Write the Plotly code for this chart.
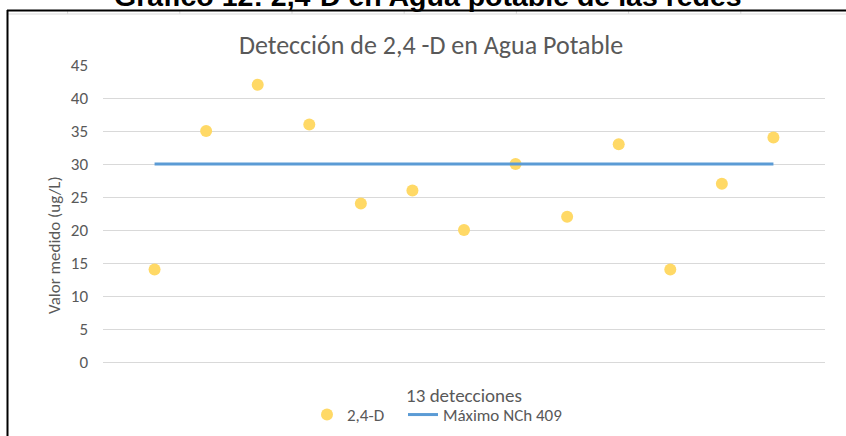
import plotly.graph_objects as go

detecciones = list(range(1, 14))
valores_24d = [14, 35, 42, 36, 24, 26, 20, 30, 22, 33, 14, 27, 34]
maximo_nch = [30] * 13
y_ticks = [0, 5, 10, 15, 20, 25, 30, 35, 40, 45]

FONT = "Carlito, Lato, sans-serif"
GRAY = "#595959"

W, H = 846, 436
L, R, T, B = 103, 21, 65, 74
pw, ph = W - L - R, H - T - B


def px_x(p):
    return (p - L) / pw


def px_y(p):
    return (H - B - p) / ph


fig = go.Figure()
fig.add_trace(go.Scatter(
    x=detecciones, y=valores_24d, mode="markers", name="2,4-D",
    marker=dict(color="#FFD966", size=12, line=dict(width=0)),
    legend="legend", showlegend=True,
))
fig.add_trace(go.Scatter(
    x=detecciones, y=maximo_nch, mode="lines", name="Máximo NCh 409",
    line=dict(color="#5B9BD5", width=3),
    legend="legend2", showlegend=True,
))

shapes = []
# cell grid strip
shapes.append(dict(type="line", xref="paper", yref="paper",
                   x0=px_x(7), x1=px_x(846), y0=px_y(14), y1=px_y(14),
                   line=dict(color="#D9D9D9", width=1)))
for k in range(-2, 5):
    xv = 292 + 112.2 * k
    shapes.append(dict(type="line", xref="paper", yref="paper",
                       x0=px_x(xv), x1=px_x(xv), y0=px_y(10), y1=px_y(14),
                       line=dict(color="#D9D9D9", width=1)))
# black border (top and left)
shapes.append(dict(type="line", xref="paper", yref="paper",
                   x0=px_x(7), x1=px_x(846), y0=px_y(10.5), y1=px_y(10.5),
                   line=dict(color="black", width=2)))
shapes.append(dict(type="line", xref="paper", yref="paper",
                   x0=px_x(7.5), x1=px_x(7.5), y0=px_y(10), y1=px_y(436),
                   line=dict(color="black", width=2)))

legend_common = dict(orientation="h", yanchor="middle", y=px_y(415),
                     xanchor="left", font=dict(size=17, color=GRAY),
                     bgcolor="rgba(0,0,0,0)", visible=True)

fig.update_layout(
    width=W, height=H,
    showlegend=True,
    margin=dict(l=L, r=R, t=T, b=B, autoexpand=False),
    paper_bgcolor="white", plot_bgcolor="white",
    font=dict(family=FONT, color=GRAY, size=12),
    title=dict(text="Detección de 2,4 -D en Agua Potable",
               x=431 / W, xanchor="center", xref="container",
               y=1 - 45 / H, yanchor="middle", yref="container",
               font=dict(family=FONT, size=26, color=GRAY)),
    xaxis=dict(range=[0, 14], showticklabels=False, showgrid=False,
               zeroline=False, showline=False, ticks="",
               title=dict(text="13 detecciones", standoff=26,
                          font=dict(size=19, color=GRAY))),
    yaxis=dict(range=[0, 45], tickvals=y_ticks, showgrid=True,
               gridcolor="#D9D9D9", gridwidth=1, zeroline=True,
               zerolinecolor="#D9D9D9", zerolinewidth=1,
               showline=False, ticks="", ticklabelstandoff=14,
               tickfont=dict(size=17, color=GRAY)),
    legend=dict(x=px_x(307), **legend_common),
    legend2=dict(x=px_x(403), **legend_common),
    shapes=shapes,
    annotations=[
        dict(text="<b>Gráfico 12: 2,4-D en Agua potable de las redes</b>",
             xref="paper", yref="paper", x=px_x(428), y=px_y(-4),
             xanchor="center", yanchor="middle", showarrow=False,
             font=dict(family="Liberation Sans, Arial", size=28.5,
                       color="black")),
        dict(text="Valor medido (ug/L)", textangle=-90,
             xref="paper", yref="paper", x=px_x(54), y=px_y(245),
             xanchor="center", yanchor="middle", showarrow=False,
             font=dict(family=FONT, size=17, color=GRAY)),
    ],
)

fig.write_html(
    "out.html",
    config={"displayModeBar": False},
    post_script="document.body.style.margin='0';document.body.style.overflow='hidden';",
)
